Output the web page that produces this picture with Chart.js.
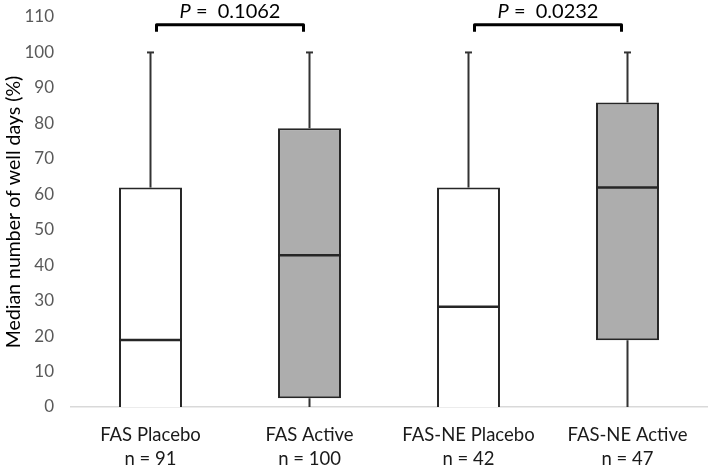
<!DOCTYPE html>
<html>
<head>
<meta charset="utf-8">
<script src="https://cdn.jsdelivr.net/npm/chart.js@4"></script>
<style>
body{margin:0;background:#fff}
#wrap{width:709px;height:470px}
</style>
</head>
<body>
<div id="wrap"><canvas id="boxChart" width="709" height="470"></canvas></div>
<script>
// groups and sample sizes
let groups = ['FAS Placebo', 'FAS Active', 'FAS-NE Placebo', 'FAS-NE Active']
let nLabels = ['n = 91', 'n = 100', 'n = 42', 'n = 47']

// box plot values (%)
let mins = [0, 0, 0, 0]
let q1s = [0, 2.5, 0, 18.8]
let medians = [18.9, 42.8, 28.3, 61.9]
let q3s = [61.9, 78.6, 61.9, 85.9]
let maxs = [100, 100, 100, 100]

let boxColors = ['#FFFFFF', '#ADADAD', '#FFFFFF', '#ADADAD']

// significance brackets
let pPairs = [[0, 1], [2, 3]]
let pValues = ['0.1062', '0.0232']
let bracketLevel = 107.8

let yTicks = [0, 10, 20, 30, 40, 50, 60, 70, 80, 90, 100, 110]

let boxes = []
for (let i = 0; i < groups.length; i++) {
    boxes.push([q1s[i], q3s[i]])
}

let labels = groups.map((g, i) => [g, nLabels[i]])

let whiskerPlugin = {
    id: 'whiskers',
    beforeDatasetsDraw(chart) {
        let ctx = chart.ctx
        let x = chart.scales.x
        let y = chart.scales.y
        ctx.save()
        ctx.strokeStyle = '#333333'
        ctx.lineWidth = 2
        for (let i = 0; i < groups.length; i++) {
            let cx = x.getPixelForValue(i)
            ctx.beginPath()
            ctx.moveTo(cx, y.getPixelForValue(mins[i]))
            ctx.lineTo(cx, y.getPixelForValue(q1s[i]))
            ctx.moveTo(cx, y.getPixelForValue(q3s[i]))
            ctx.lineTo(cx, y.getPixelForValue(maxs[i]))
            ctx.stroke()
            // cap on top
            ctx.beginPath()
            ctx.moveTo(cx - 3.5, y.getPixelForValue(maxs[i]))
            ctx.lineTo(cx + 3.5, y.getPixelForValue(maxs[i]))
            ctx.stroke()
        }
        ctx.restore()
    },
    afterDatasetsDraw(chart) {
        let ctx = chart.ctx
        let y = chart.scales.y
        let bars = chart.getDatasetMeta(0).data
        ctx.save()
        ctx.strokeStyle = '#262626'
        ctx.lineWidth = 2.5
        for (let i = 0; i < groups.length; i++) {
            let b = bars[i]
            let my = y.getPixelForValue(medians[i])
            ctx.beginPath()
            ctx.moveTo(b.x - b.width / 2, my)
            ctx.lineTo(b.x + b.width / 2, my)
            ctx.stroke()
        }
        ctx.restore()
    },
    afterDraw(chart) {
        let ctx = chart.ctx
        let x = chart.scales.x
        let y = chart.scales.y
        ctx.save()
        for (let k = 0; k < pPairs.length; k++) {
            let x1 = x.getPixelForValue(pPairs[k][0]) + 6
            let x2 = x.getPixelForValue(pPairs[k][1]) - 6
            let yb = y.getPixelForValue(bracketLevel)
            ctx.strokeStyle = '#000000'
            ctx.lineWidth = 3
            ctx.lineJoin = 'round'
            ctx.beginPath()
            ctx.moveTo(x1, yb + 7)
            ctx.lineTo(x1, yb)
            ctx.lineTo(x2, yb)
            ctx.lineTo(x2, yb + 7)
            ctx.stroke()

            // label "P = value" with italic P
            let mid = (x1 + x2) / 2
            let ty = yb - 13
            ctx.fillStyle = '#000000'
            ctx.textBaseline = 'middle'
            ctx.font = 'italic 20px Lato'
            let pw = ctx.measureText('P').width
            ctx.font = '20px Lato'
            let rest = ' =  ' + pValues[k]
            let rw = ctx.measureText(rest).width
            let sx = mid - (pw + rw) / 2
            ctx.font = 'italic 20px Lato'
            ctx.textAlign = 'left'
            ctx.fillText('P', sx, ty)
            ctx.font = '20px Lato'
            ctx.fillText(rest, sx + pw, ty)
        }
        ctx.restore()
    }
}

let canvasCtx = document.getElementById('boxChart').getContext('2d')

let myChart = new Chart(canvasCtx, {
    type: 'bar',
    data: {
        labels: labels,
        datasets: [{
            label: 'box',
            data: boxes,
            backgroundColor: boxColors,
            borderColor: '#262626',
            borderWidth: 2,
            borderSkipped: function (c) {
                return q1s[c.dataIndex] === 0 ? 'start' : false
            },
            barPercentage: 0.396,
            categoryPercentage: 1
        }]
    },
    options: {
        responsive: false,
        maintainAspectRatio: false,
        animation: false,
        layout: {padding: {top: 17, right: 2, left: 0, bottom: 0}},
        plugins: {
            legend: {display: false},
            tooltip: {enabled: false}
        },
        scales: {
            x: {
                afterFit(axis) {
                    axis.height = 63
                    axis.paddingLeft = 0
                    axis.paddingRight = 0
                },
                grid: {display: false, drawTicks: false},
                border: {display: true, color: '#D9D9D9', width: 1.5},
                ticks: {
                    color: '#1a1a1a',
                    font: {family: 'Lato', size: 18.5, lineHeight: 1.3},
                    padding: 16,
                    maxRotation: 0
                }
            },
            y: {
                min: 0,
                max: 110,
                afterBuildTicks(axis) {
                    axis.ticks = yTicks.map(v => ({value: v}))
                },
                afterFit(axis) {
                    axis.width = 71
                    axis.paddingTop = 0
                    axis.paddingBottom = 0
                },
                grid: {display: false, drawTicks: false},
                border: {display: false},
                ticks: {
                    color: '#595959',
                    font: {family: 'Lato', size: 17},
                    padding: 17
                },
                title: {
                    display: true,
                    text: 'Median number of well days (%)',
                    color: '#000000',
                    font: {family: 'Lato', size: 19.5},
                    padding: {top: 2, bottom: 2}
                }
            }
        }
    },
    plugins: [whiskerPlugin]
})
</script>
</body>
</html>
